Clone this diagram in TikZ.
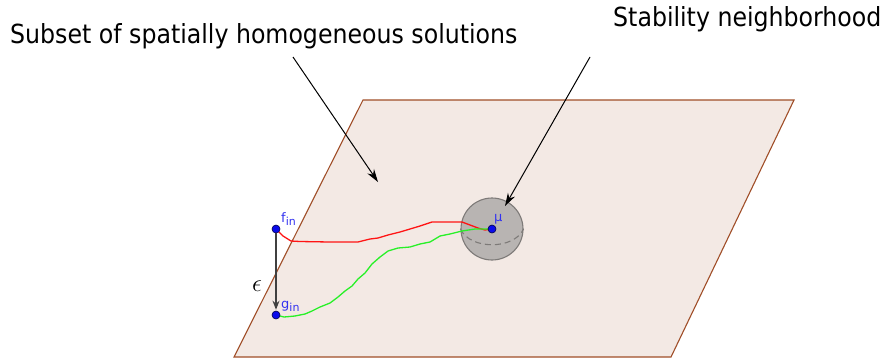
\documentclass[tikz,border=0pt]{standalone}
\usepackage{fontspec}
\setmainfont{DejaVu Sans Condensed}
\newfontfamily\lblfont{DejaVu Sans}
\usetikzlibrary{arrows.meta}
\definecolor{planefill}{RGB}{243,233,228}
\definecolor{planeedge}{RGB}{160,78,40}
\definecolor{spherefill}{RGB}{184,180,178}
\definecolor{sphereedge}{RGB}{125,122,120}
\definecolor{ptblue}{RGB}{10,10,235}
\definecolor{lblblue}{RGB}{50,50,240}
\definecolor{pathred}{RGB}{255,20,20}
\definecolor{pathgreen}{RGB}{40,240,40}
\tikzset{
  pt/.style={circle,fill=ptblue,draw=black!70!blue,line width=0.6pt,inner sep=0pt,minimum size=8pt},
  ptlabel/.style={text=lblblue,font=\lblfont\fontsize{13}{14}\selectfont,inner sep=0pt},
  callout/.style={font=\fontsize{26.3}{30}\selectfont,inner sep=0pt,anchor=base west},
  pointer/.style={-{Stealth[length=13pt,width=8pt]},line width=1pt},
}
\begin{document}
\begin{tikzpicture}[x=1pt,y=-1pt]
\useasboundingbox (0,0) rectangle (882,360);
% plane
\draw[planeedge,fill=planefill,line width=1.1pt] (363,100) -- (794,100) -- (671,357) -- (234,357) -- cycle;
% sphere
\node[circle,fill=spherefill,draw=sphereedge,line width=1.1pt,minimum size=62pt,inner sep=0pt] (ball) at (492,229) {};
\draw[sphereedge,dash pattern=on 6pt off 4pt,line width=1.1pt] (ball.west) .. controls (470,250) and (514,250) .. (ball.east);
% curves
\draw[pathred,line width=1.3pt] (276,229) -- (283,236) -- (291,241) -- (300,241.5) -- (330,242) -- (358,242) -- (370,239) -- (378,238) -- (388,235) -- (400,232) -- (410,229) -- (420,226) -- (432,222) -- (445,222) -- (462,222) -- (470,225) -- (478,228) -- (485,230) -- (492,229);
\draw[pathgreen,line width=1.3pt] (276,315) -- (284,317) -- (295,316) -- (305,314) -- (312,311) -- (320,307) -- (330,303) -- (338,297) -- (345,291) -- (352,286) -- (358,279) -- (365,273) -- (372,264) -- (380,257) -- (388,251) -- (398,248) -- (410,247) -- (420,244) -- (430,242) -- (440,236) -- (450,234) -- (462,231) -- (475,229) -- (492,229);
% points
\node[pt] (fin) at (276,229) {};
\node[pt] (gin) at (276,315) {};
\node[pt] (mu) at (492,229) {};
\node[ptlabel,anchor=south west] (finl) at (281,226) {f\raisebox{-0.5ex}{\fontsize{11}{12}\selectfont in}};
\node[ptlabel,anchor=south west] (ginl) at (281,312) {g\raisebox{-0.5ex}{\fontsize{11}{12}\selectfont in}};
\node[ptlabel,anchor=south west] (mul) at (494,224) {µ};
% epsilon
\node[font=\fontsize{32}{34}\selectfont,inner sep=0pt] (eps) at (257,286) {$\epsilon$};
% epsilon arrow
\draw[black!75,line width=1.4pt,-{Stealth[length=9pt,width=7pt]},shorten >=1pt] (fin) -- (gin);
% callouts
\node[callout] (subset) at (10,43) {Subset of spatially homogeneous solutions};
\node[callout] (stab) at (613,26) {Stability neighborhood};
\coordinate (subsettip) at (378,182);
\coordinate (stabtip) at (505,206);
\draw[pointer] (293,57) -- (subsettip);
\draw[pointer] (590,57) -- (stabtip);
\end{tikzpicture}
\end{document}
